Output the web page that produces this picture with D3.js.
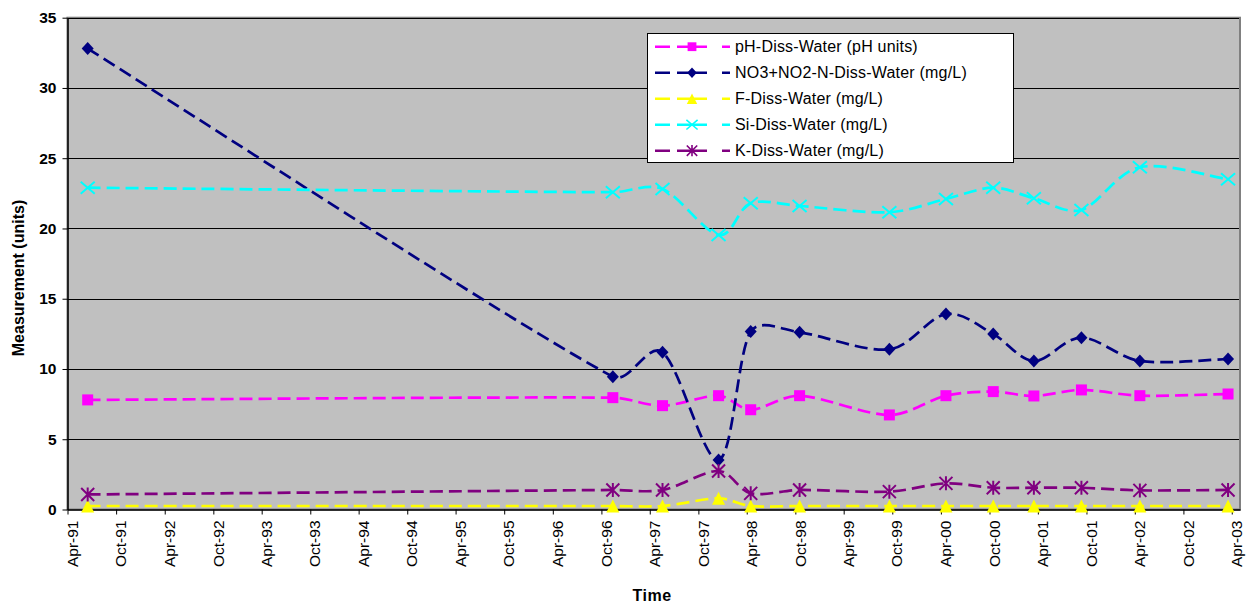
<!DOCTYPE html>
<html>
<head>
<meta charset="utf-8">
<script src="https://cdn.jsdelivr.net/npm/d3@7"></script>
<style>
  html, body { margin: 0; padding: 0; background: #ffffff; }
  svg { display: block; font-family: "Liberation Sans", Arial, sans-serif; }
</style>
</head>
<body>
<svg id="chart" width="1250" height="608"></svg>
<script>
// Sample dates (water-quality sampling visits)
const sampleDates = ["1991-06-16","1996-11-13","1997-05-19","1997-12-16","1998-04-16","1998-10-17",
  "1999-09-20","2000-04-20","2000-10-15","2001-03-17","2001-09-12","2002-04-20","2003-03-18"];

// Measured constituents
const phValues  = [7.80, 7.96, 7.39, 8.10, 7.10, 8.10, 6.73, 8.10, 8.39, 8.08, 8.51, 8.10, 8.22];
const no3Values = [32.8, 9.45, 11.19, 3.52, 12.66, 12.61, 11.40, 13.91, 12.49, 10.57, 12.23, 10.57, 10.71];
const fValues   = [0.25, 0.25, 0.25, 0.80, 0.25, 0.25, 0.25, 0.25, 0.25, 0.25, 0.25, 0.25, 0.25];
const siValues  = [22.9, 22.58, 22.81, 19.54, 21.79, 21.60, 21.15, 22.10, 22.90, 22.15, 21.32, 24.36, 23.50];
const kValues   = [1.07, 1.39, 1.39, 2.74, 1.15, 1.39, 1.27, 1.86, 1.55, 1.55, 1.55, 1.36, 1.39];

const seriesNames = ["pH-Diss-Water (pH units)", "NO3+NO2-N-Diss-Water (mg/L)", "F-Diss-Water (mg/L)",
  "Si-Diss-Water (mg/L)", "K-Diss-Water (mg/L)"];

// Axis tick labels
const xTickLabels = ["Apr-91","Oct-91","Apr-92","Oct-92","Apr-93","Oct-93","Apr-94","Oct-94","Apr-95","Oct-95",
  "Apr-96","Oct-96","Apr-97","Oct-97","Apr-98","Oct-98","Apr-99","Oct-99","Apr-00","Oct-00",
  "Apr-01","Oct-01","Apr-02","Oct-02","Apr-03"];
const yTickValues = [0, 5, 10, 15, 20, 25, 30, 35];

const parseDate = d3.utcParse("%Y-%m-%d");
const parseTick = d3.utcParse("%b-%y");
const dates = sampleDates.map(parseDate);
const tickDates = xTickLabels.map(parseTick);

const svg = d3.select("#chart");
const plot = { left: 67.5, right: 1240, top: 17.7, bottom: 509.5 };

const x = d3.scaleUtc()
  .domain([parseDate("1991-04-01"), parseDate("2003-05-02")])
  .range([plot.left, plot.right]);
const y = d3.scaleLinear().domain([0, 35]).range([plot.bottom, plot.top]);

// Smoothed-line curve: Catmull-Rom tangents (neighbour difference / 6),
// with each control arm capped at a third of its own segment length.
function SpreadsheetSmooth(context) { this._context = context; }
SpreadsheetSmooth.prototype = {
  areaStart() {}, areaEnd() {},
  lineStart() { this._pts = []; },
  point(px, py) { this._pts.push([+px, +py]); },
  lineEnd() {
    const p = this._pts, n = p.length, ctx = this._context;
    if (!n) return;
    ctx.moveTo(p[0][0], p[0][1]);
    if (n === 1) return;
    const tan = p.map((_, i) => {
      const a = p[Math.max(0, i - 1)], b = p[Math.min(n - 1, i + 1)];
      return [(b[0] - a[0]) / 6, (b[1] - a[1]) / 6];
    });
    const cap = (t, len) => {
      const m = Math.hypot(t[0], t[1]), lim = len / 3;
      return m > lim && m > 0 ? [t[0] * lim / m, t[1] * lim / m] : t;
    };
    for (let i = 0; i < n - 1; i++) {
      const a = p[i], b = p[i + 1];
      const len = Math.hypot(b[0] - a[0], b[1] - a[1]);
      const ta = cap(tan[i], len), tb = cap(tan[i + 1], len);
      ctx.bezierCurveTo(a[0] + ta[0], a[1] + ta[1], b[0] - tb[0], b[1] - tb[1], b[0], b[1]);
    }
  }
};
const curveSpreadsheet = context => new SpreadsheetSmooth(context);

// Plot area background
svg.append("rect")
  .attr("x", plot.left).attr("y", plot.top)
  .attr("width", plot.right - plot.left).attr("height", plot.bottom - plot.top)
  .attr("fill", "#c0c0c0").attr("stroke", "#808080").attr("stroke-width", 2);

// Horizontal gridlines
svg.append("g").selectAll("line")
  .data(yTickValues.filter(v => v > 0))
  .join("line")
  .attr("x1", plot.left).attr("x2", plot.right - 1)
  .attr("y1", d => Math.round(y(d)) + 0.5).attr("y2", d => Math.round(y(d)) + 0.5)
  .attr("stroke", "#000").attr("stroke-width", 1);

// X axis
const xAxis = svg.append("g")
  .attr("transform", `translate(0,${plot.bottom})`)
  .call(d3.axisBottom(x).tickValues(tickDates).tickFormat((d, i) => xTickLabels[i])
    .tickSize(5).tickSizeOuter(0));
xAxis.select(".domain").attr("stroke", "#000").attr("stroke-width", 1.5);
xAxis.selectAll(".tick line").attr("stroke", "#000");
xAxis.selectAll(".tick text")
  .attr("transform", "rotate(-90)")
  .attr("x", -11).attr("y", 9.7).attr("dy", 0)
  .attr("text-anchor", "end")
  .attr("font-size", 15.5)
  .attr("font-family", "Liberation Sans, Arial, sans-serif")
  .attr("fill", "#000");

// Y axis
const yAxis = svg.append("g")
  .attr("transform", `translate(${plot.left},0)`)
  .call(d3.axisLeft(y).tickValues(yTickValues).tickSize(5).tickPadding(6).tickSizeOuter(0));
yAxis.select(".domain").attr("stroke", "#000").attr("stroke-width", 1.5);
yAxis.selectAll(".tick line").attr("stroke", "#000");
yAxis.selectAll(".tick text")
  .attr("font-size", 15.5).attr("font-weight", "bold")
  .attr("font-family", "Liberation Sans, Arial, sans-serif")
  .attr("fill", "#000");

// Axis titles
svg.append("text")
  .attr("transform", "translate(24,278) rotate(-90)")
  .attr("text-anchor", "middle")
  .attr("font-size", 16).attr("font-weight", "bold")
  .text("Measurement (units)");
svg.append("text")
  .attr("x", 652).attr("y", 601)
  .attr("text-anchor", "middle")
  .attr("font-size", 16).attr("font-weight", "bold").attr("letter-spacing", 0.5)
  .text("Time");

// Marker shapes
const markers = {
  square: (g, c) => g.append("rect").attr("x", -5.5).attr("y", -5.5).attr("width", 11).attr("height", 11)
    .attr("fill", c),
  diamond: (g, c) => g.append("path").attr("d", "M0,-6.5L6,0L0,6.5L-6,0Z").attr("fill", c),
  triangle: (g, c) => g.append("path").attr("d", "M0,-6.5L6.5,6.5L-6.5,6.5Z").attr("fill", c),
  cross: (g, c) => g.append("path").attr("d", "M-7,-6L7,6M-7,6L7,-6")
    .attr("stroke", c).attr("stroke-width", 2).attr("fill", "none"),
  star: (g, c) => g.append("path").attr("d", "M-6.5,-6.5L6.5,6.5M-6.5,6.5L6.5,-6.5M0,-7L0,7")
    .attr("stroke", c).attr("stroke-width", 2).attr("fill", "none")
};

const series = [
  { name: seriesNames[0], values: phValues,  color: "#ff00ff", marker: "square" },
  { name: seriesNames[1], values: no3Values, color: "#000080", marker: "diamond" },
  { name: seriesNames[2], values: fValues,   color: "#ffff00", marker: "triangle" },
  { name: seriesNames[3], values: siValues,  color: "#00ffff", marker: "cross" },
  { name: seriesNames[4], values: kValues,   color: "#800080", marker: "star" }
];

const line = d3.line()
  .x(d => x(d.date)).y(d => y(d.value))
  .curve(curveSpreadsheet);

series.forEach(s => {
  const pts = s.values.map((v, i) => ({ date: dates[i], value: v }));
  const g = svg.append("g");
  g.append("path")
    .attr("d", line(pts))
    .attr("fill", "none")
    .attr("stroke", s.color)
    .attr("stroke-width", 2.7)
    .attr("stroke-dasharray", "13,6");
  pts.forEach(p => {
    const m = g.append("g").attr("transform", `translate(${x(p.date)},${y(p.value)})`);
    markers[s.marker](m, s.color);
  });
});

// Legend
const legend = svg.append("g");
legend.append("rect")
  .attr("x", 647.5).attr("y", 33.5).attr("width", 366).attr("height", 129)
  .attr("fill", "#fff").attr("stroke", "#000").attr("stroke-width", 1);
series.forEach((s, i) => {
  const ly = 46.7 + i * 26;
  const row = legend.append("g");
  row.append("line")
    .attr("x1", 655).attr("x2", 730).attr("y1", ly).attr("y2", ly)
    .attr("stroke", s.color).attr("stroke-width", 2.6)
    .attr("stroke-dasharray", "15,7,30,15,8");
  const m = row.append("g").attr("transform", `translate(692,${ly}) scale(0.8)`);
  markers[s.marker](m, s.color);
  row.append("text")
    .attr("x", 735).attr("y", ly).attr("dy", "0.35em")
    .attr("font-size", 16).attr("letter-spacing", 0.2)
    .attr("fill", "#000")
    .text(s.name);
});
</script>
</body>
</html>
